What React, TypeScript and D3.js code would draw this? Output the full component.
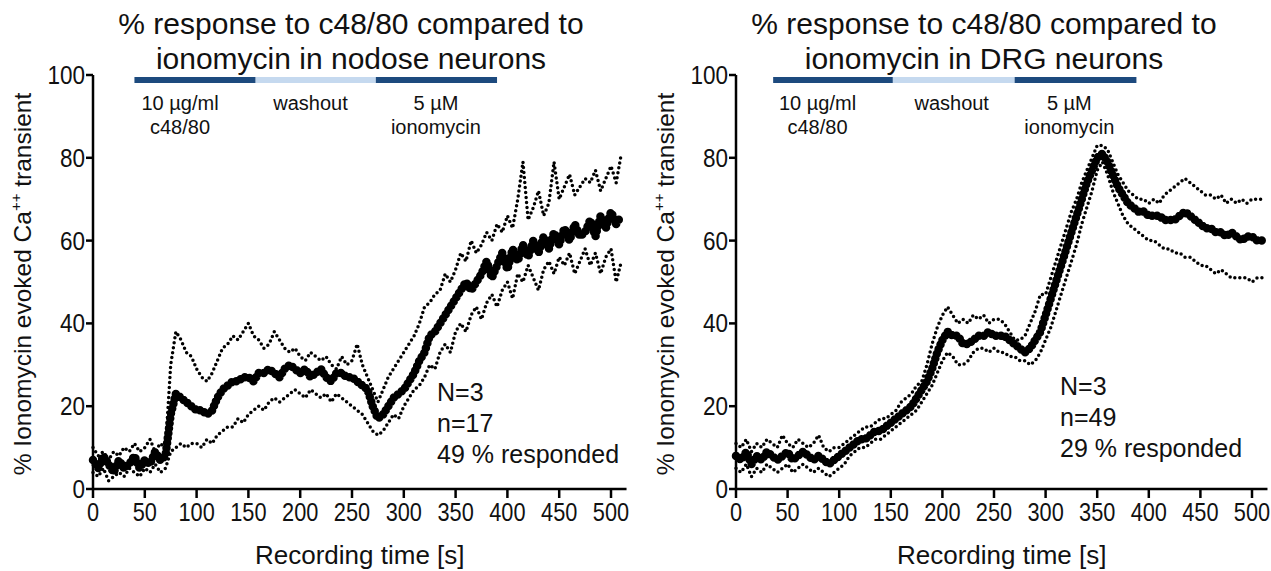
import React from 'react';
import * as d3 from 'd3';

const FONT = '"Liberation Sans", Arial, sans-serif';
const DARK = '#1d4a7e';
const LIGHT = '#c5d9ef';

// sample times (s)
const TIME = d3.range(0, 515, 5);

const nodoseMean = [
  7, 5, 8, 6, 4, 7, 5, 6, 8, 5, 7, 6, 9, 7, 8,
  18, 23, 22, 21, 20, 19, 19, 18, 19, 22,
  24, 25, 26, 26, 27, 27, 26, 28, 28, 29,
  28, 27, 29, 30, 29, 28, 29, 27, 28, 29,
  27, 26, 28, 28, 27, 27, 26, 25, 24, 20,
  17, 18, 20, 22, 23, 24, 26, 28, 31, 33,
  37, 38, 40, 42, 44, 46, 48, 50, 48, 50,
  52, 55, 51, 54, 57, 53, 58, 55, 59, 56,
  60, 57, 61, 58, 62, 59, 63, 60, 64, 61,
  62, 65, 61, 66, 63, 67, 64, 66,
];
const nodoseUpper = [
  10, 8, 9, 7, 9, 8, 10, 9, 11, 9, 10, 12, 9, 11, 10,
  30, 38, 36, 33, 32, 29, 27, 26, 28, 31,
  34, 35, 37, 36, 38, 40, 37, 36, 34, 35,
  38, 36, 34, 33, 34, 32, 31, 33, 32, 31,
  32, 30, 29, 32, 30, 31, 35, 30, 27, 24,
  21, 24, 27, 29, 31, 33, 35, 37, 40, 44,
  45, 47, 48, 52, 50, 53, 57, 55, 60, 57,
  59, 62, 60, 64, 62, 66, 63, 70, 79, 65,
  68, 72, 66, 69, 79, 70, 73, 76, 71, 73,
  75, 74, 77, 72, 75, 78, 74, 81,
];
const nodoseLower = [
  4, 3, 5, 2, 3, 4, 3, 5, 4, 3, 5, 4, 6, 4, 5,
  9, 10, 11, 10, 11, 11, 10, 12, 11, 13,
  14, 15, 15, 17, 16, 18, 19, 20, 19, 21,
  22, 21, 22, 23, 24, 23, 22, 24, 23, 22,
  23, 21, 23, 22, 21, 20, 19, 18, 16, 14,
  13, 14, 16, 18, 17, 20, 22, 24, 25, 27,
  30, 29, 33, 35, 33, 38, 40, 38, 42, 44,
  41, 45, 47, 44, 48, 50, 46, 52, 50, 54,
  51, 48, 53, 55, 52, 56, 54, 57, 52, 55,
  58, 54, 57, 52, 56, 58, 50, 55,
];

const drgMean = [
  8, 7, 9, 6, 8, 7, 9, 8, 7, 8, 9, 7, 8, 9, 8, 7, 8, 7, 6, 7,
  8, 9, 10, 11, 12, 12, 13, 14, 14, 15,
  16, 17, 18, 19, 20, 22, 24, 26, 29, 33,
  36, 38, 37, 37, 35, 35, 36, 37, 37, 38,
  37, 37, 37, 36, 35, 34, 33, 34, 36, 38,
  42, 46, 50, 54, 58, 62, 66, 70, 74, 77,
  80, 81, 79, 76, 73, 71, 69, 68, 67, 67,
  66, 66, 66, 65, 65, 65, 66, 67, 66, 65,
  64, 63, 63, 62, 62, 61, 62, 61, 60, 61,
  61, 60, 60,
];
const drgUpper = [
  11, 10, 12, 9, 11, 10, 12, 11, 10, 13, 11, 10, 12, 11, 10, 11, 13, 10, 9, 10,
  10, 11, 12, 13, 14, 15, 15, 16, 17, 17,
  18, 19, 21, 22, 23, 25, 26, 30, 35, 39,
  42, 44, 42, 40, 41, 40, 42, 41, 42, 40,
  41, 41, 40, 38, 36, 36, 37, 40, 43, 47,
  47, 51, 55, 59, 63, 67, 70, 74, 77, 80,
  83, 83, 82, 79, 76, 74, 72, 71, 70, 70,
  69, 70, 69, 71, 72, 73, 74, 75, 74, 73,
  72, 71, 71, 70, 71, 69, 70, 69, 70, 69,
  70, 70, 70,
];
const drgLower = [
  5, 4, 6, 3, 5, 4, 6, 5, 4, 5, 6, 4, 5, 6, 5, 4, 5, 4, 3, 4,
  5, 6, 8, 9, 10, 10, 11, 12, 12, 13,
  14, 15, 16, 17, 18, 19, 21, 23, 25, 28,
  31, 33, 32, 30, 30, 31, 33, 34, 34, 33,
  34, 33, 33, 32, 32, 31, 31, 30, 31, 33,
  36, 39, 43, 47, 51, 55, 59, 64, 68, 72,
  77, 79, 76, 72, 69, 66, 64, 63, 62, 61,
  60, 60, 59, 58, 58, 57, 57, 56, 56, 55,
  54, 54, 53, 52, 53, 52, 51, 51, 51, 51,
  50, 51, 51,
];

const yTicks = [0, 20, 40, 60, 80, 100];
const xTicks = [0, 50, 100, 150, 200, 250, 300, 350, 400, 450, 500];

// treatment bar: [start, end] in seconds
const nodoseBars = [[40, 157], [157, 273], [273, 390]];
const drgBars = [[36, 152], [152, 270], [270, 388]];
const nodoseBarLabels = [
  { t: 84, lines: ['10 µg/ml', 'c48/80'] },
  { t: 210, lines: ['washout'] },
  { t: 331, lines: ['5 µM', 'ionomycin'] },
];
const drgBarLabels = [
  { t: 79, lines: ['10 µg/ml', 'c48/80'] },
  { t: 209, lines: ['washout'] },
  { t: 323, lines: ['5 µM', 'ionomycin'] },
];

const Panel = ({ x0, x500, title, center, mean, upper, lower, bars, barLabels, notes, noteX, noteY }) => {
  const x = d3.scaleLinear().domain([0, 500]).range([x0, x500]);
  const y = d3.scaleLinear().domain([0, 100]).range([489, 75]);
  const line = d3.line<number>().x((_, i) => x(TIME[i])).y(d => y(d));

  return (
    <g fontFamily={FONT} fill="#111">
      {title.map((t, i) => (
        <text key={t} x={center} y={34 + i * 35} textAnchor="middle" fontSize={30}>{t}</text>
      ))}

      {/* treatment bar */}
      {bars.map((b, i) => (
        <rect key={i} x={x(b[0])} y={77} width={x(b[1]) - x(b[0])} height={6} fill={i === 1 ? LIGHT : DARK} />
      ))}
      {barLabels.map(l => l.lines.map((s, j) => (
        <text key={s} x={x(l.t)} y={110 + j * 24} textAnchor="middle" fontSize={20}>{s}</text>
      )))}

      {/* data */}
      <path d={line(upper)} fill="none" stroke="#000" strokeWidth={3.5} strokeDasharray="0 5" strokeLinecap="round" />
      <path d={line(lower)} fill="none" stroke="#000" strokeWidth={3.5} strokeDasharray="0 5" strokeLinecap="round" />
      <path d={line(mean)} fill="none" stroke="#000" strokeWidth={8.5} strokeDasharray="0 5" strokeLinecap="round" />

      {/* axes */}
      <line x1={x0} x2={x0} y1={y(100)} y2={y(0)} stroke="#000" strokeWidth={2.5} />
      <line x1={x0} x2={x(515)} y1={y(0)} y2={y(0)} stroke="#000" strokeWidth={2.5} />
      {yTicks.map(t => (
        <g key={t}>
          <line x1={x0 - 7} x2={x0} y1={y(t)} y2={y(t)} stroke="#000" strokeWidth={2.5} />
          <text transform={`translate(${x0 - 8},${y(t) + 9}) scale(0.9,1)`} textAnchor="end" fontSize={25}>{t}</text>
        </g>
      ))}
      {xTicks.map(t => (
        <g key={t}>
          <line x1={x(t)} x2={x(t)} y1={y(0)} y2={y(0) + 9} stroke="#000" strokeWidth={2.5} />
          <text transform={`translate(${x(t)},${y(0) + 32}) scale(0.87,1)`} textAnchor="middle" fontSize={25}>{t}</text>
        </g>
      ))}
      <text x={(x0 + x(515)) / 2} y={564} textAnchor="middle" fontSize={26}>Recording time [s]</text>
      <text transform={`translate(${x0 - 62},${y(50) + 2}) rotate(-90)`} textAnchor="middle" fontSize={24.5}>
        % Ionomycin evoked Ca<tspan fontSize={15} dy={-10}>++</tspan><tspan dy={10}> transient</tspan>
      </text>

      {notes.map((n, i) => (
        <text key={n} x={noteX} y={noteY + i * 31} fontSize={25}>{n}</text>
      ))}
    </g>
  );
};

export default function App() {
  return (
    <svg width={1271} height={571} style={{ position: 'absolute', left: 0, top: 0, background: '#fff' }}>
      <rect width={1271} height={571} fill="#fff" />
      <Panel
        x0={93} x500={611} center={351}
        title={['% response to c48/80 compared to', 'ionomycin in nodose neurons']}
        mean={nodoseMean} upper={nodoseUpper} lower={nodoseLower}
        bars={nodoseBars} barLabels={nodoseBarLabels}
        notes={['N=3', 'n=17', '49 % responded']} noteX={437} noteY={401}
      />
      <Panel
        x0={736} x500={1252} center={984}
        title={['% response to c48/80 compared to', 'ionomycin in DRG neurons']}
        mean={drgMean} upper={drgUpper} lower={drgLower}
        bars={drgBars} barLabels={drgBarLabels}
        notes={['N=3', 'n=49', '29 % responded']} noteX={1060} noteY={395}
      />
    </svg>
  );
}
